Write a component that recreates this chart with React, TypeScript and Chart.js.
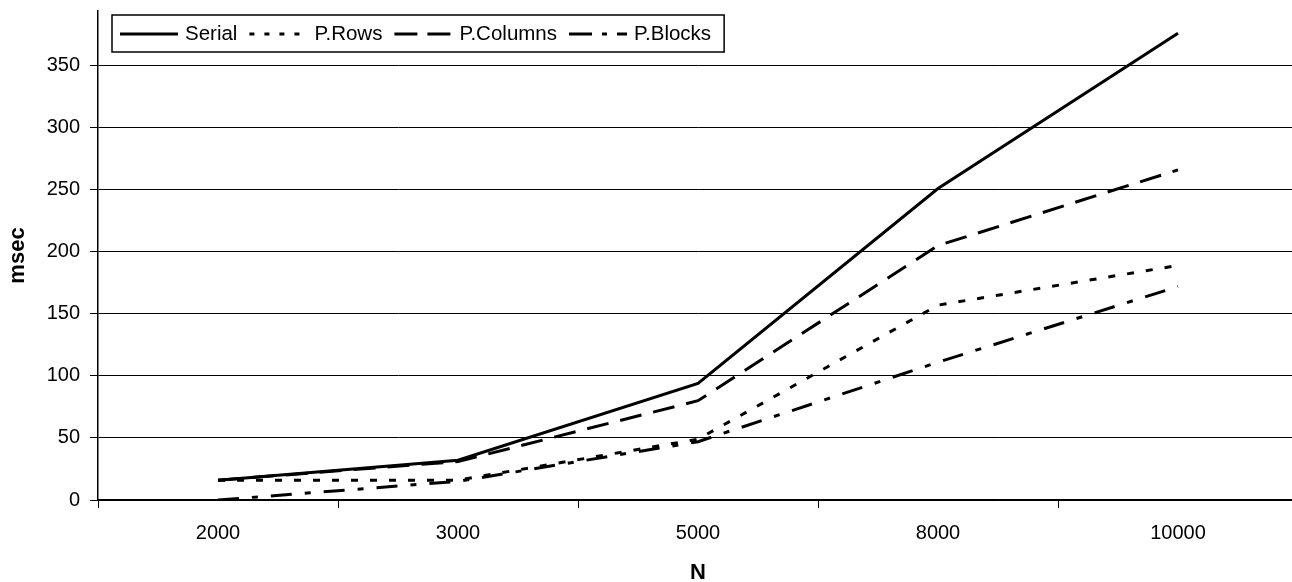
import React, { useEffect, useRef } from "react";
import { Chart, registerables } from "chart.js";

Chart.register(...registerables);

const categories = ["2000", "3000", "5000", "8000", "10000"];
const serial = [16, 32, 94, 251, 376];
const pRows = [16, 16, 49, 157, 189];
const pColumns = [16, 31, 80, 205, 266];
const pBlocks = [0, 15, 47, 111, 172];
const seriesLabels = ["Serial", "P.Rows", "P.Columns", "P.Blocks"];
const yAxisTitle = "msec";
const xAxisTitle = "N";
const yStep = 50;
const yMin = 0;
const yMax = 394;

const FONT = "'Liberation Sans', Arial, Helvetica, sans-serif";

const lineDashes: number[][] = [[], [7, 12], [22, 12], [21, 13, 6, 13]];
const legendDashes: number[][] = [[], [5, 10], [23, 10], [23, 10, 5, 10]];

const boxLegend = {
  id: "boxLegend",
  afterDraw(chart: any) {
    const ctx: CanvasRenderingContext2D = chart.ctx;
    const area = chart.chartArea;
    const x0 = area.left + 14;
    const y0 = 15;
    const h = 37;
    const sample = 58;
    const gapText = 7;
    const gapItem = 12;
    ctx.save();
    ctx.font = `20.5px ${FONT}`;
    const widths = seriesLabels.map((l) => ctx.measureText(l).width);
    let total = 8;
    widths.forEach((w) => (total += sample + gapText + w + gapItem));
    total += 1;
    ctx.fillStyle = "#fff";
    ctx.fillRect(x0, y0, total, h);
    ctx.strokeStyle = "#000";
    ctx.lineWidth = 1.5;
    ctx.setLineDash([]);
    ctx.strokeRect(x0, y0, total, h);
    let x = x0 + 8;
    const cy = y0 + h / 2 + 0.5;
    seriesLabels.forEach((label, i) => {
      ctx.beginPath();
      ctx.setLineDash(legendDashes[i]);
      ctx.lineWidth = 3;
      ctx.lineCap = "butt";
      ctx.moveTo(x, cy);
      ctx.lineTo(x + sample, cy);
      ctx.stroke();
      ctx.setLineDash([]);
      ctx.fillStyle = "#000";
      ctx.textBaseline = "middle";
      ctx.textAlign = "left";
      ctx.fillText(label, x + sample + gapText, cy);
      x += sample + gapText + widths[i] + gapItem;
    });
    ctx.restore();
  },
};

export default function App() {
  const ref = useRef<HTMLCanvasElement | null>(null);

  useEffect(() => {
    if (!ref.current) return;
    Chart.defaults.font.family = FONT;
    Chart.defaults.color = "#000";
    const seriesData = [serial, pRows, pColumns, pBlocks];
    const chart = new Chart(ref.current, {
      type: "line",
      data: {
        labels: categories,
        datasets: seriesData.map((d, i) => ({
          label: seriesLabels[i],
          data: d,
          borderColor: "#000",
          backgroundColor: "#000",
          borderWidth: 3,
          borderDash: lineDashes[i],
          borderCapStyle: "butt" as const,
          pointRadius: 0,
          pointHoverRadius: 0,
          fill: false,
          tension: 0,
        })),
      },
      options: {
        animation: false,
        responsive: false,
        devicePixelRatio: 1,
        layout: { padding: { top: 11, right: 2, left: 0, bottom: 0 } },
        plugins: {
          legend: { display: false },
          tooltip: { enabled: false },
        },
        scales: {
          x: {
            offset: true,
            grid: {
              offset: true,
              drawOnChartArea: false,
              drawTicks: true,
              tickLength: 8,
              color: "#000",
              lineWidth: 1,
            },
            border: { display: true, color: "#000", width: 1.5 },
            ticks: { font: { size: 20 }, color: "#000", padding: 13, maxRotation: 0 },
            title: {
              display: true,
              text: xAxisTitle,
              font: { size: 22, weight: "bold" },
              color: "#000",
              padding: { top: 0, bottom: -4 },
            },
            afterFit: (scale: any) => {
              scale.height = 82;
              scale.paddingLeft = 0;
              scale.paddingRight = 0;
            },
          },
          y: {
            min: yMin,
            max: yMax,
            grid: {
              drawOnChartArea: true,
              drawTicks: true,
              tickLength: 8,
              color: "#000",
              lineWidth: 1,
            },
            border: { display: true, color: "#000", width: 1.5 },
            ticks: {
              stepSize: yStep,
              includeBounds: false,
              font: { size: 20 },
              color: "#000",
              padding: 10,
            },
            title: {
              display: true,
              text: yAxisTitle,
              font: { size: 22, weight: "bold" },
              color: "#000",
              padding: { top: 5, bottom: 0 },
            },
            afterFit: (scale: any) => {
              scale.width = 98;
              scale.paddingTop = 0;
              scale.paddingBottom = 0;
            },
          },
        },
      },
      plugins: [boxLegend],
    });
    return () => chart.destroy();
  }, []);

  return (
    <div
      style={{
        position: "fixed",
        left: 0,
        top: 0,
        width: 1292,
        height: 582,
        overflow: "hidden",
        background: "#fff",
      }}
    >
      <canvas ref={ref} width={1300} height={582} style={{ display: "block", width: 1300, height: 582 }} />
    </div>
  );
}
